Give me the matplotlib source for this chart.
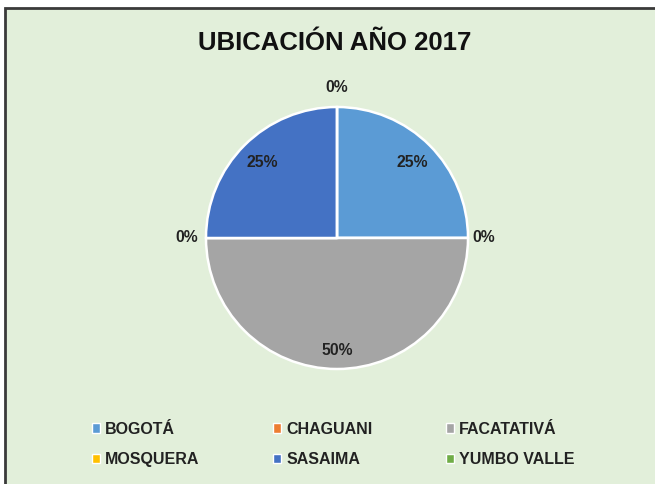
import matplotlib
matplotlib.use("Agg")
import matplotlib.pyplot as plt
from matplotlib.patches import Rectangle, Patch
import numpy as np

title = "UBICACIÓN AÑO 2017"
categories = ["BOGOTÁ", "CHAGUANI", "FACATATIVÁ", "MOSQUERA", "SASAIMA", "YUMBO VALLE"]
values = [25, 0, 50, 0, 25, 0]
colors = ["#5B9BD5", "#ED7D31", "#A5A5A5", "#FFC000", "#4472C4", "#70AD47"]
label_radius = [0.81, 1.12, 0.86, 1.15, 0.81, 1.15]

plt.rcParams['font.family'] = ['Liberation Sans', 'DejaVu Sans']

W, H = 655, 484
fig = plt.figure(figsize=(W / 100, H / 100), dpi=100)
fig.patch.set_facecolor("white")

# chart area background with border
fig.patches.append(Rectangle((5 / W, -0.05), 1.0, (H - 8) / H + 0.05, transform=fig.transFigure,
                             facecolor="#E2EFDA", edgecolor="#3A3A3A", linewidth=2, zorder=-10))

fig.text(335 / W, 1 - 43 / H, title, ha="center", va="center", fontsize=18.5,
         fontweight="bold", color="#111111")

side = 393
cx, cy = 337, H - 238
ax = fig.add_axes([(cx - side / 2) / W, (cy - side / 2) / H, side / W, side / H])
ax.set_zorder(5)

wedges, _ = ax.pie(values, colors=colors, startangle=90, counterclock=False, radius=1.0,
                   wedgeprops=dict(edgecolor="white", linewidth=1.8))
ax.set_xlim(-1.5, 1.5)
ax.set_ylim(-1.5, 1.5)
ax.set_aspect("equal")
ax.axis("off")

total = sum(values)
for w, v, r in zip(wedges, values, label_radius):
    ang = np.deg2rad((w.theta1 + w.theta2) / 2)
    ax.text(r * np.cos(ang), r * np.sin(ang), f"{v / total * 100:.0f}%", ha="center", va="center",
            fontsize=11.3, fontweight="bold", color="#222222")

# legend filled row by row (3 columns, 2 rows)
ncol, nrow = 3, 2
order = [r * ncol + c for c in range(ncol) for r in range(nrow)]
handles = [Patch(facecolor=colors[i], edgecolor="white", linewidth=1.0) for i in order]
labels = [categories[i] for i in order]
leg = fig.legend(handles, labels, ncol=ncol, loc="center left", bbox_to_anchor=(78 / W, 1 - 444.5 / H),
                 frameon=False, handlelength=0.5, handleheight=0.5, handletextpad=0.3,
                 columnspacing=4.62, labelspacing=0.98,
                 prop=dict(family="Liberation Sans", weight="bold", size=11.5))
for t in leg.get_texts():
    t.set_color("#222222")

fig.savefig("out.png", dpi=100)
